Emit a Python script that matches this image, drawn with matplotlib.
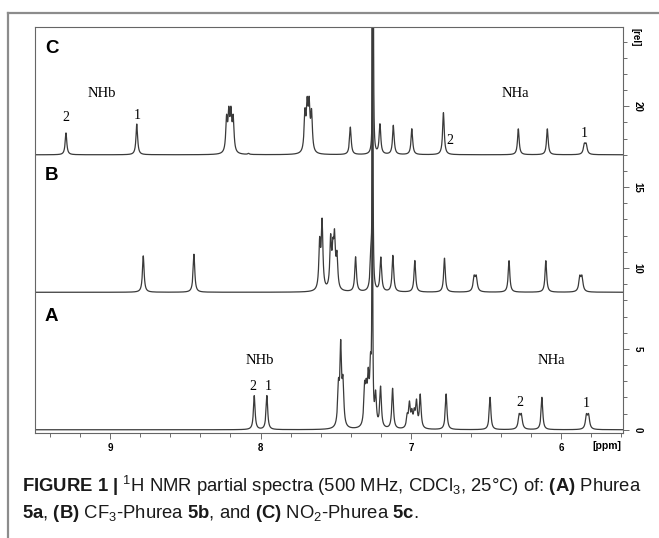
import matplotlib
matplotlib.use("Agg")
import matplotlib.pyplot as plt
import numpy as np
from matplotlib.ticker import MultipleLocator
from matplotlib.lines import Line2D

plt.rcParams['font.family'] = ['Liberation Sans', 'DejaVu Sans']
plt.rcParams['mathtext.fontset'] = 'custom'
plt.rcParams['mathtext.rm'] = 'Liberation Sans'
plt.rcParams['mathtext.bf'] = 'Liberation Sans:bold'
plt.rcParams['mathtext.it'] = 'Liberation Sans:italic'

# peak lists: position [ppm], height [rel], half width [ppm]
a_pos = [8.042, 7.958, 7.482, 7.467, 7.452, 7.308, 7.297, 7.284, 7.269, 7.257, 7.235, 7.202, 7.122,
         7.025, 7.010, 6.994, 6.978, 6.963, 6.938, 6.766, 6.474, 6.280, 6.266, 6.129, 5.833, 5.819]
a_h = [2.1, 2.1, 2.3, 4.8, 2.5, 2.2, 1.8, 2.6, 3.3, 30, 1.9, 2.5, 2.5,
       0.7, 1.45, 0.85, 0.85, 1.55, 2.05, 2.2, 2.0, 0.8, 0.8, 2.0, 0.8, 0.8]
a_w = [0.0065]*9 + [0.002] + [0.0065]*11 + [0.008, 0.008, 0.0065, 0.008, 0.008]

b_pos = [8.780, 8.443, 7.607, 7.591, 7.534, 7.519, 7.508, 7.492, 7.368, 7.266, 7.255, 7.200, 7.120,
         6.974, 6.777, 6.580, 6.566, 6.348, 6.103, 5.877, 5.863]
b_h = [2.25, 2.35, 2.8, 4.1, 3.0, 2.0, 2.9, 1.95, 2.15, 2.0, 30, 2.1, 2.25,
       1.95, 2.1, 0.85, 0.85, 1.95, 1.95, 0.85, 0.85]
b_w = [0.0065]*10 + [0.002] + [0.0065]*4 + [0.008, 0.008, 0.0065, 0.0065, 0.008, 0.008]

c_pos = [9.294, 8.823, 8.226, 8.211, 8.197, 8.182, 8.080, 7.705, 7.690, 7.677, 7.661, 7.403, 7.252,
         7.206, 7.117, 6.994, 6.784, 6.286, 6.093, 5.847, 5.835]
c_h = [1.35, 1.9, 2.0, 2.2, 2.2, 2.0, 0.06, 2.3, 2.6, 2.65, 2.3, 1.7, 30,
       1.85, 1.8, 1.6, 2.6, 1.6, 1.6, 0.55, 0.55]
c_w = [0.0065]*12 + [0.002] + [0.0065]*6 + [0.008, 0.008]

offsets = [0.0, 8.5, 17.0]  # A, B, C baselines

def spectrum(x, pos, h, w):
    y = np.zeros_like(x)
    for p, hh, ww in zip(pos, h, w):
        y = y + hh*ww**2/((x-p)**2 + ww**2)
    return y

ppm = np.linspace(5.5, 9.6, 14000)

fig = plt.figure(figsize=(6.59, 5.38), dpi=100)
ax = fig.add_axes([35/659, 1-433/538, 588/659, 406/538])

col = '#3a3a3a'
for (pos, h, w), off in zip([(a_pos, a_h, a_w), (b_pos, b_h, b_w), (c_pos, c_h, c_w)], offsets):
    ax.plot(ppm, spectrum(ppm, pos, h, w) + off, color=col, lw=0.9)

ax.set_xlim(9.5, 5.59)
ax.set_ylim(-0.2, 24.9)
ax.xaxis.set_major_locator(MultipleLocator(1))
ax.xaxis.set_minor_locator(MultipleLocator(0.2))
ax.yaxis.tick_right()
ax.yaxis.set_major_locator(MultipleLocator(5))
ax.yaxis.set_minor_locator(MultipleLocator(1))
ax.tick_params(which='both', direction='out', color='#555555', width=0.6, labelsize=7, pad=3)
ax.tick_params(which='major', length=4)
ax.tick_params(which='minor', length=3)
for s in ax.spines.values():
    s.set_color('#666666')
    s.set_linewidth(0.8)
plt.setp(ax.get_xticklabels(), fontweight='bold')
plt.setp(ax.get_yticklabels(), fontweight='bold', rotation=-90, va='center')

ax.text(1.012, 0.975, '[rel]', transform=ax.transAxes, rotation=-90, fontsize=7,
        fontweight='bold', ha='left', va='center')
ax.text(5.695, -0.033, '[ppm]', transform=ax.get_xaxis_transform(), fontsize=7.5,
        fontweight='bold', ha='center', va='center')

# panel letters
for lab, yf in zip(['C', 'B', 'A'], [0.946, 0.635, 0.286]):
    ax.text(0.017, yf, lab, transform=ax.transAxes, fontsize=13.5, fontweight='bold',
            ha='left', va='center')

serif = 'Liberation Serif'
ax.text(9.055, 20.8, 'NHb', family=serif, fontsize=10.5, ha='center', va='center')
ax.text(9.294, 19.3, '2', family=serif, fontsize=10, ha='center', va='center')
ax.text(8.823, 19.4, '1', family=serif, fontsize=10, ha='center', va='center')
ax.text(6.306, 20.8, 'NHa', family=serif, fontsize=10.5, ha='center', va='center')
ax.text(6.739, 17.9, '2', family=serif, fontsize=10, ha='center', va='center')
ax.text(5.846, 18.3, '1', family=serif, fontsize=10, ha='center', va='center')

ax.text(8.005, 4.3, 'NHb', family=serif, fontsize=10.5, ha='center', va='center')
ax.text(8.051, 2.65, '2', family=serif, fontsize=10, ha='center', va='center')
ax.text(7.950, 2.65, '1', family=serif, fontsize=10, ha='center', va='center')
ax.text(6.067, 4.3, 'NHa', family=serif, fontsize=10.5, ha='center', va='center')
ax.text(6.273, 1.7, '2', family=serif, fontsize=10, ha='center', va='center')
ax.text(5.835, 1.6, '1', family=serif, fontsize=10, ha='center', va='center')

# page frame lines
fig.add_artist(Line2D([8/659, 1], [1-13/538, 1-13/538], color='#8c8c8c', lw=1.6))
fig.add_artist(Line2D([8/659, 8/659], [0, 1-13/538], color='#8c8c8c', lw=1.6))

line1 = r"$\mathbf{FIGURE\ 1\ |}$ $^{1}$H NMR partial spectra (500 MHz, CDCl$_{3}$, 25°C) of: $\mathbf{(A)}$ Phurea"
line2 = r"$\mathbf{5a}$, $\mathbf{(B)}$ CF$_{3}$-Phurea $\mathbf{5b}$, and $\mathbf{(C)}$ NO$_{2}$-Phurea $\mathbf{5c}$."
fig.text(22/659, 1-486/538, line1, fontsize=13.3, ha='left', va='center', color='#1a1a1a')
fig.text(22/659, 1-514/538, line2, fontsize=13.3, ha='left', va='center', color='#1a1a1a')

fig.savefig('out.png', dpi=100)
